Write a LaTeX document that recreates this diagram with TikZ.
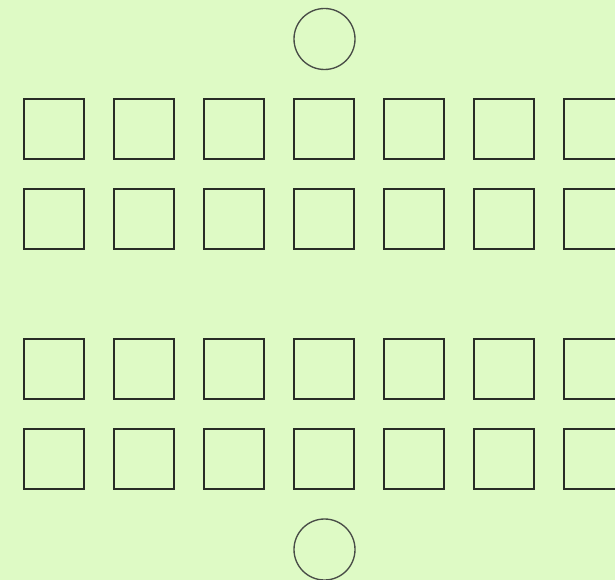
\documentclass[tikz,border=0pt]{standalone}
\usepackage{tikz}
\usetikzlibrary{positioning}
\definecolor{bgreen}{RGB}{222,250,197}
\definecolor{edge}{RGB}{40,44,38}

\begin{document}
\begin{tikzpicture}[x=1pt, y=-1pt,
    seat/.style={draw=edge, line width=1.35pt, minimum width=60pt, minimum height=60pt, inner sep=0pt, outer sep=0pt},
    lamp/.style={draw=edge!85, line width=1.35pt, circle, minimum size=61pt, inner sep=0pt}
]
\fill[bgreen] (0,0) rectangle (615,580);
\useasboundingbox (0,0) rectangle (615,580);
\node[lamp] (top) at (324.5,39) {};
\node[lamp] (bottom) at (324.5,549.5) {};
\foreach \r/\y in {a/129, b/219, c/369, d/459}
  \foreach \i in {0,...,6}
    \node[seat] (\r\i) at (54+90*\i,\y) {};
\end{tikzpicture}
\end{document}
